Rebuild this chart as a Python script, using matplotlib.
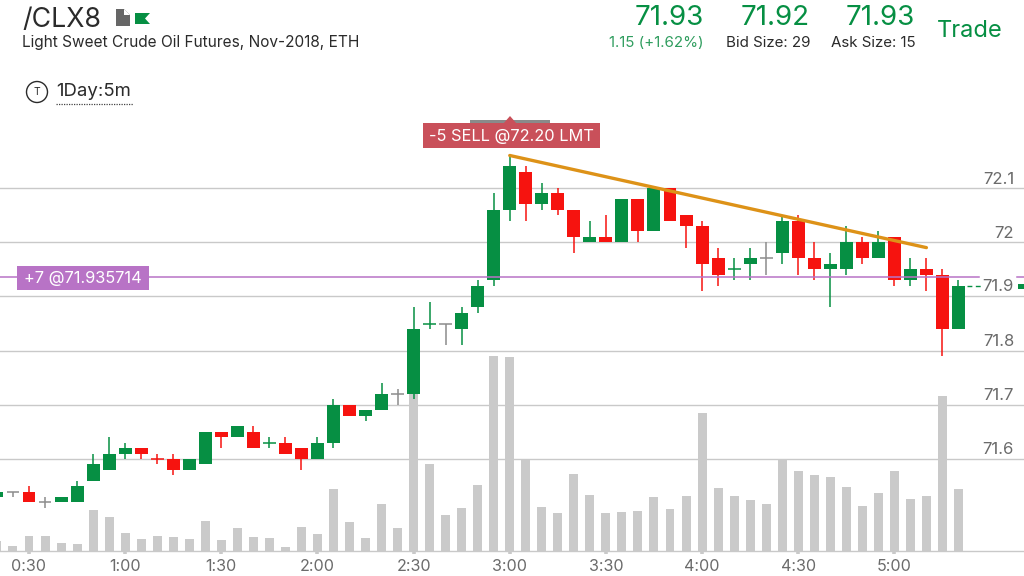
import matplotlib

matplotlib.use("Agg")
import matplotlib.pyplot as plt
import numpy as np
from matplotlib.patches import Circle, Polygon, Rectangle

# minutes since midnight, one 5 minute candle each
minutes = list(range(20, 325, 5))

opens = [71.53, 71.54, 71.54, 71.52, 71.52, 71.52, 71.56, 71.58, 71.61, 71.62, 71.60,
         71.60, 71.58, 71.59, 71.65, 71.64, 71.65, 71.63, 71.63, 71.62, 71.60, 71.63,
         71.70, 71.68, 71.69, 71.72, 71.72, 71.85, 71.85, 71.84, 71.88, 71.93, 72.06,
         72.13, 72.07, 72.09, 72.06, 72.00, 72.01, 72.00, 72.08, 72.02, 72.10, 72.05,
         72.03, 71.97, 71.95, 71.96, 71.97, 71.98, 72.04, 71.97, 71.95, 71.95, 72.00,
         71.97, 72.01, 71.93, 71.95, 71.94, 71.84]
highs = [71.54, 71.54, 71.55, 71.53, 71.53, 71.56, 71.61, 71.64, 71.63, 71.62, 71.61,
         71.61, 71.60, 71.65, 71.65, 71.66, 71.66, 71.64, 71.64, 71.62, 71.64, 71.71,
         71.70, 71.69, 71.74, 71.73, 71.88, 71.89, 71.85, 71.88, 71.93, 72.09, 72.16,
         72.14, 72.11, 72.10, 72.06, 72.04, 72.05, 72.08, 72.08, 72.10, 72.10, 72.05,
         72.04, 71.99, 71.97, 71.99, 72.00, 72.05, 72.05, 72.00, 71.98, 72.03, 72.01,
         72.02, 72.01, 71.97, 71.97, 71.95, 71.93]
lows = [71.53, 71.53, 71.52, 71.51, 71.52, 71.52, 71.56, 71.58, 71.60, 71.60, 71.59,
        71.57, 71.58, 71.59, 71.62, 71.64, 71.62, 71.62, 71.61, 71.58, 71.60, 71.62,
        71.68, 71.67, 71.69, 71.70, 71.71, 71.84, 71.81, 71.81, 71.87, 71.92, 72.04,
        72.04, 72.06, 72.05, 71.98, 72.00, 72.00, 72.00, 72.00, 72.02, 72.04, 71.99,
        71.91, 71.92, 71.93, 71.93, 71.94, 71.96, 71.94, 71.93, 71.88, 71.94, 71.96,
        71.97, 71.92, 71.92, 71.91, 71.79, 71.84]
closes = [71.54, 71.54, 71.52, 71.52, 71.53, 71.55, 71.59, 71.61, 71.62, 71.61, 71.60,
          71.58, 71.60, 71.65, 71.64, 71.66, 71.62, 71.63, 71.61, 71.60, 71.63, 71.70,
          71.68, 71.69, 71.72, 71.72, 71.84, 71.85, 71.85, 71.87, 71.92, 72.06, 72.14,
          72.07, 72.09, 72.06, 72.01, 72.01, 72.00, 72.08, 72.02, 72.10, 72.04, 72.03,
          71.96, 71.94, 71.95, 71.97, 71.97, 72.04, 71.97, 71.95, 71.96, 72.00, 71.97,
          72.00, 71.93, 71.95, 71.94, 71.84, 71.92]
volumes = [10, 5, 15, 15, 8, 7, 41, 34, 18, 12, 15, 14, 12, 30, 11, 23, 14, 13, 4, 24,
           17, 62, 29, 13, 47, 23, 160, 87, 36, 43, 66, 195, 194, 91, 44, 38, 77, 56,
           38, 39, 40, 54, 42, 55, 138, 63, 55, 51, 47, 92, 80, 76, 74, 64, 45, 58, 80,
           52, 55, 155, 62]

# dojis have no direction of their own, the app tints them from the previous tick
doji_up = [105, 155, 250]
doji_down = [70]

time_ticks = [30, 60, 90, 120, 150, 180, 210, 240, 270, 300]
price_ticks = [72.1, 72.0, 71.9, 71.8, 71.7, 71.6]
price_labels = ["72.1", "72", "71.9", "71.8", "71.7", "71.6"]

avg_price = 71.935714
last_price = 71.92
trend_minutes = [180, 310]
trend_prices = [72.16, 71.99]

GREEN = "#068f43"
RED = "#f6130f"
DOJI_GRAY = "#8c8c8c"
GRID = "#c9c9c9"
PURPLE = "#b873c6"
TEXT_DARK = "#2b2b2b"
TEXT_GRAY = "#6b6b6b"
FONT = "Inter"

# pixel calibration of the screenshot
BASE_Y = 551
PX_PER_DOLLAR = 542
PX_PER_MINUTE = 3.205


def price_y(price):
    return 188 + (72.1 - price) * PX_PER_DOLLAR


def candle_color(minute, o, c):
    if c > o:
        return GREEN
    if c < o:
        return RED
    if minute in doji_up:
        return GREEN
    if minute in doji_down:
        return RED
    return DOJI_GRAY


def draw_chart(ax):
    ax.set_xlim(30 - 29 / PX_PER_MINUTE, 30 + (1024 - 29) / PX_PER_MINUTE)
    ax.set_ylim(72.1 - (BASE_Y - 188) / PX_PER_DOLLAR, 72.1 + 188 / PX_PER_DOLLAR)

    for spine in ["top", "left", "right"]:
        ax.spines[spine].set_visible(False)
    ax.spines["bottom"].set_color(GRID)
    ax.spines["bottom"].set_linewidth(1.0)

    ax.set_yticks(price_ticks)
    ax.tick_params(axis="y", length=0, labelleft=False)
    ax.grid(True, axis="y", color=GRID, linewidth=1.0)
    ax.set_axisbelow(True)

    ax.set_xticks(time_ticks)
    ax.set_xticklabels([f"{m // 60}:{m % 60:02d}" for m in time_ticks])
    ax.tick_params(axis="x", length=2, width=2.6, color=GRID, pad=4,
                   labelsize=11.6, labelcolor=TEXT_GRAY)
    for label in ax.get_xticklabels():
        label.set_family(FONT)

    # volume bars sit on the bottom axis, on their own scale
    ax.bar(minutes, np.array(volumes) / BASE_Y, width=2.8, color="#cacaca",
           transform=ax.get_xaxis_transform(), zorder=1.5)

    for minute, o, h, l, c in zip(minutes, opens, highs, lows, closes):
        color = candle_color(minute, o, c)
        ax.vlines(minute, l, h, color=color, linewidth=1.1, zorder=3)
        if o == c:
            ax.hlines(o, minute - 2, minute + 2, color=color, linewidth=1.1, zorder=3)
        else:
            ax.bar(minute, abs(c - o), bottom=min(o, c), width=4.05, color=color,
                   linewidth=0, zorder=3.2)

    ax.axhline(avg_price, xmin=0, xmax=979 / 1024, color=PURPLE, linewidth=1.1, zorder=4)
    ax.axhline(avg_price, xmin=1017 / 1024, xmax=1, color=PURPLE, linewidth=1.1, zorder=4)
    ax.plot(trend_minutes, trend_prices, color="#dd9218", linewidth=2.4,
            solid_capstyle="round", zorder=5)
    ax.hlines(last_price, 322.6, 327.5, color=GREEN, linewidth=1.0,
              linestyles=(0, (3.5, 2.5)), zorder=4)

    for price, label in zip(price_ticks, price_labels):
        y = price_y(price) - 9 if label != "71.9" else price_y(last_price) + 1
        ax.annotate(label, xy=(1014, 576 - y), xycoords="figure pixels",
                    ha="right", va="center", fontsize=12, color=TEXT_GRAY,
                    family=FONT, zorder=6, annotation_clip=False)


def draw_header(ov):
    ov.text(22, 20, "/CLX8", fontsize=19.2, color=TEXT_DARK, va="center", family=FONT)
    ov.text(22, 43, "Light Sweet Crude Oil Futures, Nov-2018, ETH", fontsize=11.1,
            color=TEXT_DARK, va="center", family=FONT)

    ov.add_patch(Polygon([(116, 9), (124, 9), (130, 15), (130, 26), (116, 26)],
                         facecolor="#666666", edgecolor="none"))
    ov.add_patch(Polygon([(124, 9), (124, 15), (130, 15)],
                         facecolor="white", edgecolor="none"))
    ov.add_patch(Polygon([(135, 13), (150, 13), (145, 18.5), (150, 24), (135, 24)],
                         facecolor=GREEN, edgecolor="none"))

    for right, text in zip([704, 810, 915], ["71.93", "71.92", "71.93"]):
        ov.text(right, 18, text, fontsize=20, color=GREEN, ha="right", va="center",
                family=FONT)
    ov.text(704, 43, "1.15 (+1.62%)", fontsize=10.9, color="#2f9d5e", ha="right",
            va="center", family=FONT)
    ov.text(810, 43, "Bid Size: 29", fontsize=10.9, color=TEXT_DARK, ha="right",
            va="center", family=FONT)
    ov.text(916, 43, "Ask Size: 15", fontsize=10.9, color=TEXT_DARK, ha="right",
            va="center", family=FONT)
    ov.text(937, 31, "Trade", fontsize=17, color=GREEN, va="center", family=FONT)

    ov.add_patch(Circle((37, 92), 10.5, facecolor="none", edgecolor=TEXT_DARK, linewidth=1.0))
    ov.text(37, 92, "T", fontsize=7.5, color=TEXT_DARK, ha="center", va="center", family=FONT)
    ov.text(56, 92, "1Day:5m", fontsize=13.4, color=TEXT_DARK, va="center", family=FONT)
    ov.plot([56, 133], [103.5, 103.5], color="#444444", linewidth=0.9, linestyle=(0, (1, 1)))


def draw_orders(ov):
    ov.add_patch(Rectangle((470, 120), 80, 4, facecolor="#8a8a8a", edgecolor="none"))
    ov.add_patch(Polygon([(503, 124), (510, 116), (517, 124)], facecolor="#c9505a",
                         edgecolor="none"))
    ov.add_patch(Rectangle((423, 123), 177, 25, facecolor="#c9505a", edgecolor="none"))
    ov.text(511, 136, "-5 SELL @72.20 LMT", fontsize=11.8, color="white", ha="center",
            va="center", family=FONT)

    ov.add_patch(Rectangle((17, 266), 132, 24, facecolor=PURPLE, edgecolor="none"))
    ov.text(83, 278.5, "+7 @71.935714", fontsize=11.8, color="white", ha="center",
            va="center", family=FONT)

    ov.add_patch(Rectangle((1018, 283.5), 6, 5, facecolor=GREEN, edgecolor="none"))


def main():
    fig = plt.figure(figsize=(10.24, 5.76), dpi=100, facecolor="white")

    ax = fig.add_axes([0, (576 - BASE_Y) / 576, 1, BASE_Y / 576])
    ax.patch.set_alpha(0)
    draw_chart(ax)

    # screen furniture goes on an overlay in screenshot pixels
    ov = fig.add_axes([0, 0, 1, 1], zorder=3)
    ov.set_xlim(0, 1024)
    ov.set_ylim(576, 0)
    ov.axis("off")
    draw_header(ov)
    draw_orders(ov)

    fig.savefig("out.png", dpi=100)


if __name__ == "__main__":
    main()
